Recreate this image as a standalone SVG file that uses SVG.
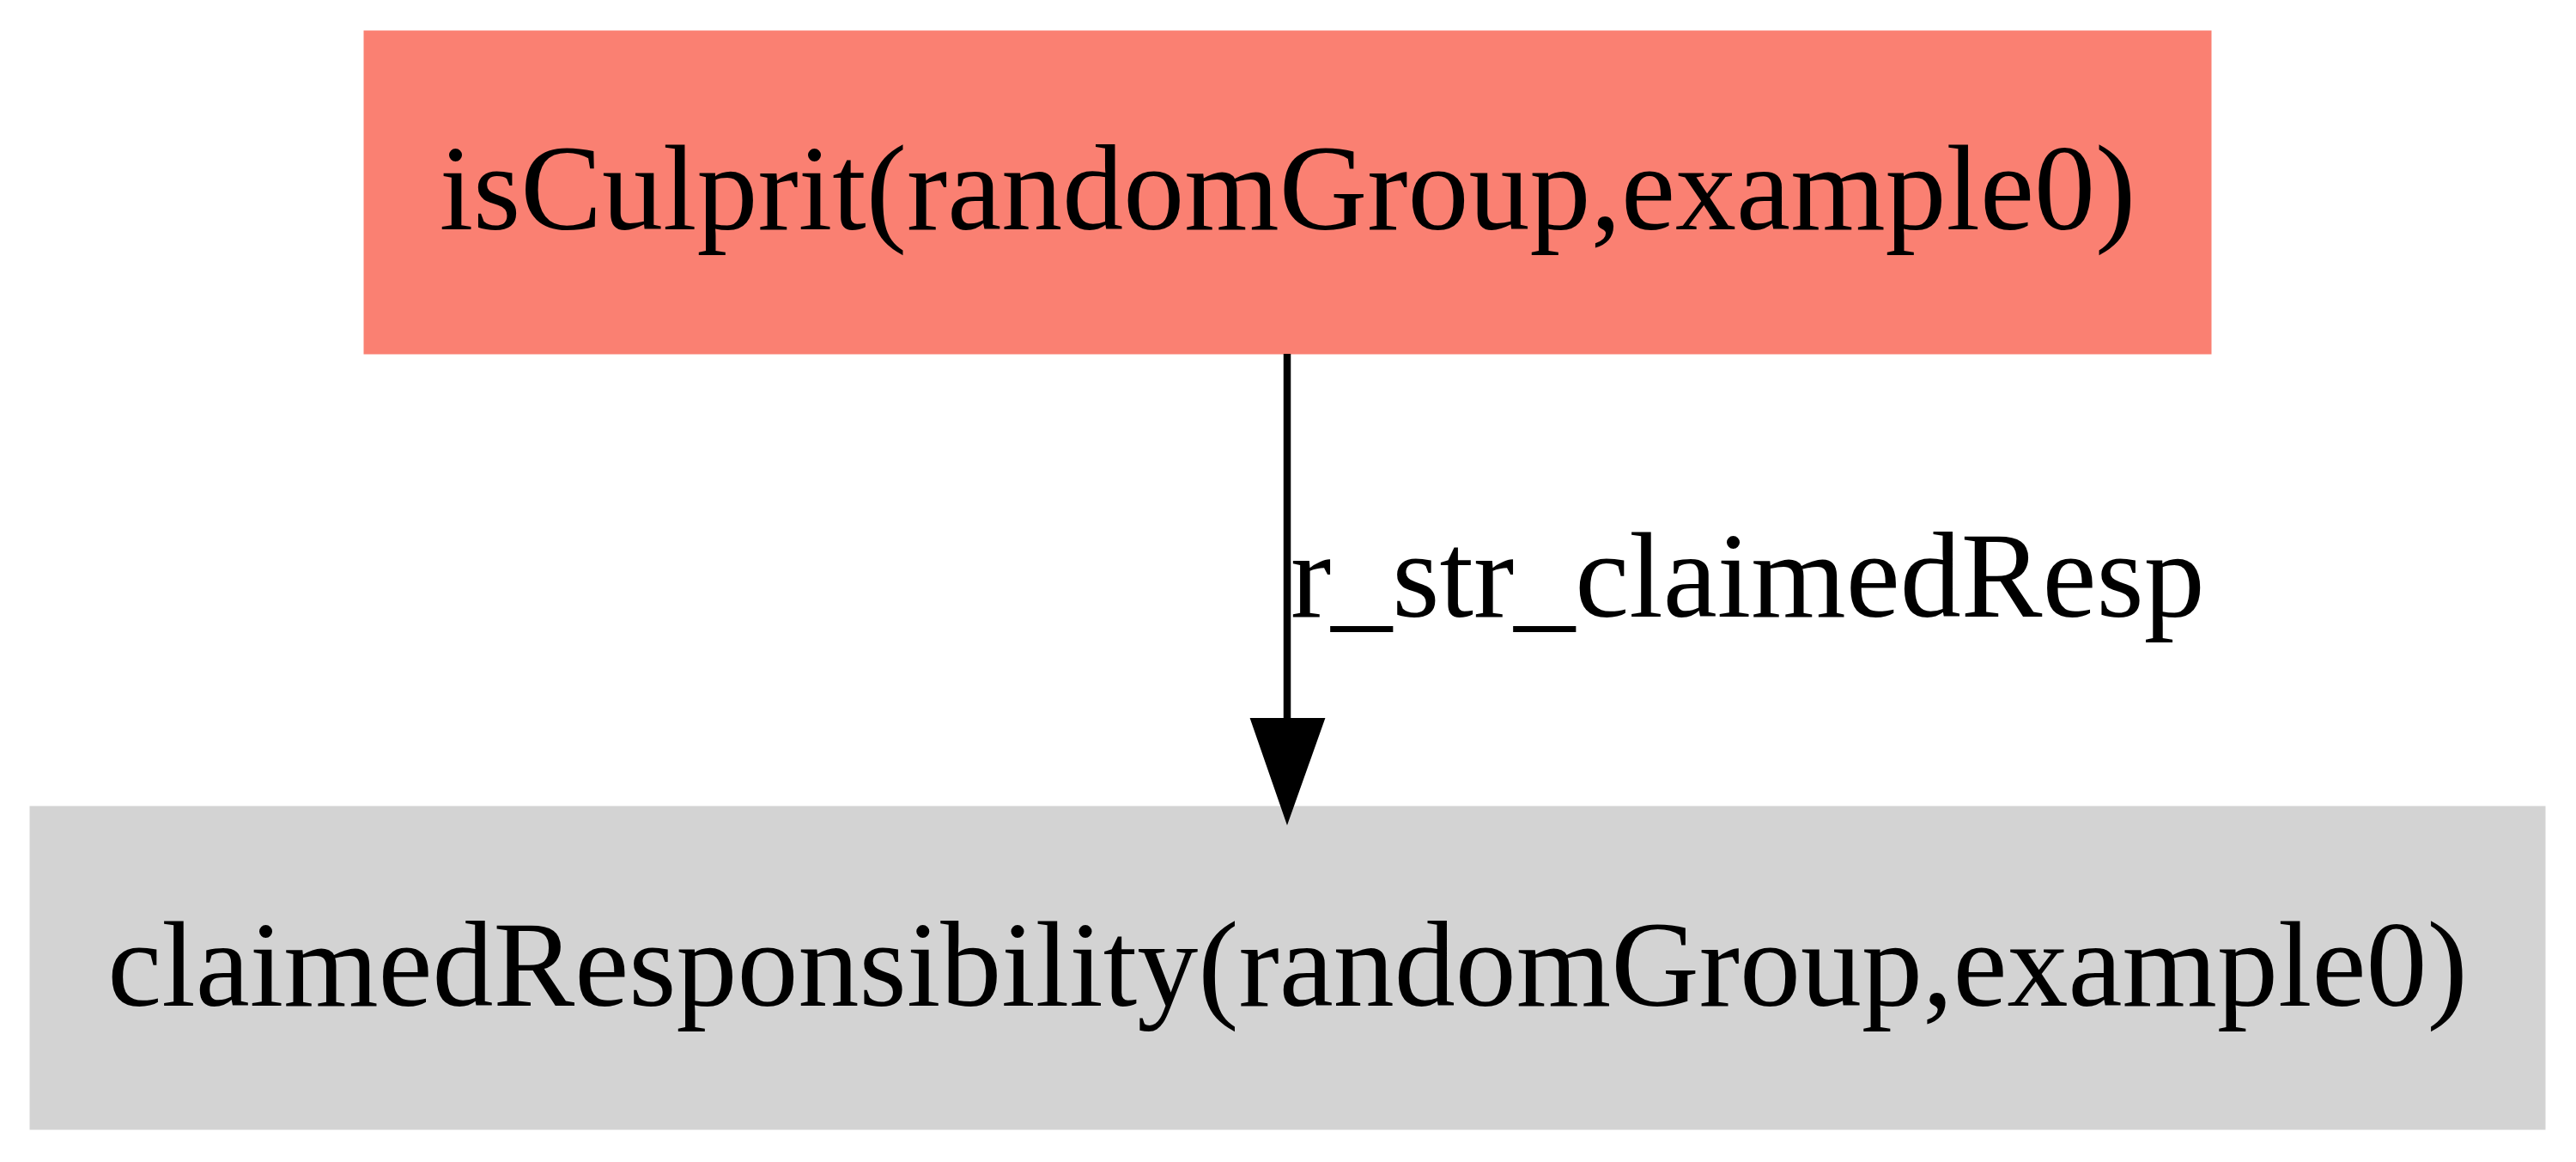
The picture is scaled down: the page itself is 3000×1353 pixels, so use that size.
<svg xmlns="http://www.w3.org/2000/svg" width="3000" height="1353" viewBox="0 0 3000 1353">
<style>
  .lbl { font-family: "Liberation Serif", "Times New Roman", serif; font-size: 142px; fill: #000; }
  .edge { stroke: #000; stroke-width: 8.5; fill: none; }
</style>
<rect width="3000" height="1353" fill="#fff"/>
<g id="node-isCulprit">
  <rect x="424" y="36" width="2151" height="376" fill="#fa8072" stroke="#fa8072" stroke-width="1"/>
  <text class="lbl" x="1499.5" y="267" text-anchor="middle">isCulprit(randomGroup,example0)</text>
</g>
<g id="node-claimedResponsibility">
  <rect x="35" y="939" width="2929" height="376" fill="#d3d3d3" stroke="#d3d3d3" stroke-width="1"/>
  <text class="lbl" x="1499.5" y="1171" text-anchor="middle">claimedResponsibility(randomGroup,example0)</text>
</g>
<g id="connectors">
  <g id="edge-1">
    <line class="edge" x1="1499" y1="412" x2="1499" y2="840"/>
    <polygon points="1457,837 1542,837 1499,958" fill="#000" stroke="#000" stroke-width="2"/>
    <text class="lbl" x="1503" y="718">r_str_claimedResp</text>
  </g>
</g>
</svg>
